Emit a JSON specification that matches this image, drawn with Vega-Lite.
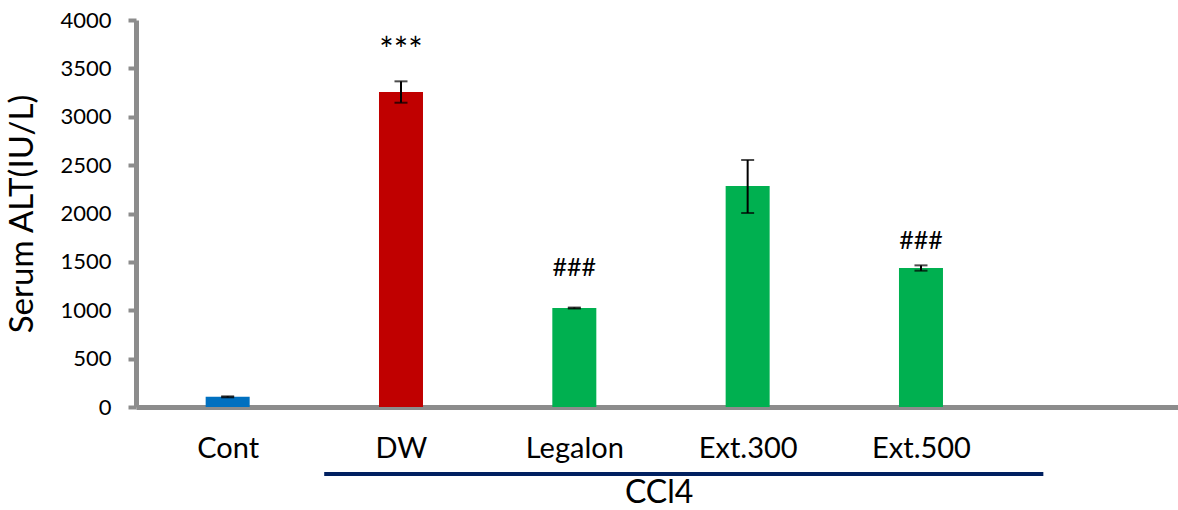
{
  "$schema": "https://vega.github.io/schema/vega-lite/v6.json",
  "width": 1042,
  "height": 387,
  "autosize": {"type": "none"},
  "padding": {"left": 136, "top": 20, "right": 0, "bottom": 103},
  "background": "white",
  "config": {"view": {"stroke": null}, "font": "Lato"},
  "datasets": {
    "bars": [
      {"group": "Cont", "pos": 0.5, "value": 105, "lo": 100, "hi": 110},
      {"group": "DW", "pos": 1.5, "value": 3255, "lo": 3145, "hi": 3366},
      {"group": "Legalon", "pos": 2.5, "value": 1023, "lo": 1018, "hi": 1028},
      {"group": "Ext.300", "pos": 3.5, "value": 2284, "lo": 2005, "hi": 2553},
      {"group": "Ext.500", "pos": 4.5, "value": 1437, "lo": 1409, "hi": 1464}
    ],
    "notes": [
      {"pos": 1.5, "y": 3670, "label": "***"},
      {"pos": 2.5, "y": 1437, "label": "###"},
      {"pos": 4.5, "y": 1716, "label": "###"}
    ],
    "bracket": [
      {"x1": 1.057, "x2": 5.206, "y": -692}
    ],
    "bracketLabel": [
      {"pos": 2.989, "y": -890, "label": "CCl4"}
    ]
  },
  "layer": [
    {
      "data": {"name": "bars"},
      "mark": {"type": "bar", "size": 44},
      "encoding": {
        "x": {
          "field": "pos", "type": "quantitative",
          "scale": {"domain": [0, 5.954], "nice": false, "zero": false},
          "axis": {
            "values": [0.5, 1.5, 2.5, 3.5, 4.5],
            "labelExpr": "['Cont','DW','Legalon','Ext.300','Ext.500'][floor(datum.value)]",
            "title": null, "grid": false, "ticks": false,
            "domainColor": "#8c8c8c", "domainWidth": 5,
            "labelFont": "Lato", "labelFontSize": 29, "labelColor": "#000000",
            "labelPadding": 41, "labelBaseline": "middle", "labelFlush": false
          }
        },
        "y": {
          "field": "value", "type": "quantitative",
          "title": "Serum ALT(IU/L)",
          "scale": {"domain": [0, 4000], "nice": false},
          "axis": {
            "values": [0, 500, 1000, 1500, 2000, 2500, 3000, 3500, 4000],
            "format": "d",
            "titleFont": "Lato", "titleFontSize": 33, "titleFontWeight": "normal", "titleColor": "#000000",
            "titleBaseline": "bottom", "titleX": -97,
            "grid": false,
            "domainColor": "#8c8c8c", "domainWidth": 5,
            "tickColor": "#8c8c8c", "tickWidth": 4, "tickSize": 8,
            "labelFont": "Lato", "labelFontSize": 22, "labelColor": "#000000",
            "labelPadding": 17
          }
        },
        "color": {
          "field": "group", "type": "nominal",
          "scale": {"domain": ["Cont", "DW", "Legalon", "Ext.300", "Ext.500"],
                    "range": ["#0070c0", "#c00000", "#00b050", "#00b050", "#00b050"]},
          "legend": null
        }
      }
    },
    {
      "data": {"name": "bars"},
      "mark": {"type": "errorbar", "color": "#000000", "thickness": 2, "ticks": {"size": 13, "thickness": 2, "color": "#000000"}},
      "encoding": {
        "x": {"field": "pos", "type": "quantitative"},
        "y": {"field": "lo", "type": "quantitative", "title": "Serum ALT(IU/L)"},
        "y2": {"field": "hi"}
      }
    },
    {
      "data": {"name": "notes"},
      "mark": {"type": "text", "font": "Lato", "fontSize": 25, "color": "#000000", "baseline": "middle"},
      "encoding": {
        "x": {"field": "pos", "type": "quantitative"},
        "y": {"field": "y", "type": "quantitative", "title": "Serum ALT(IU/L)"},
        "text": {"field": "label"},
        "size": {"condition": {"test": "datum.label === '***'", "value": 34}, "value": 25}
      }
    },
    {
      "data": {"name": "bracket"},
      "mark": {"type": "rule", "color": "#002060", "strokeWidth": 4, "clip": false},
      "encoding": {
        "x": {"field": "x1", "type": "quantitative"},
        "x2": {"field": "x2"},
        "y": {"field": "y", "type": "quantitative", "title": "Serum ALT(IU/L)"}
      }
    },
    {
      "data": {"name": "bracketLabel"},
      "mark": {"type": "text", "font": "Lato", "fontSize": 32, "color": "#000000", "baseline": "middle", "clip": false},
      "encoding": {
        "x": {"field": "pos", "type": "quantitative"},
        "y": {"field": "y", "type": "quantitative", "title": "Serum ALT(IU/L)"},
        "text": {"field": "label"}
      }
    }
  ]
}
